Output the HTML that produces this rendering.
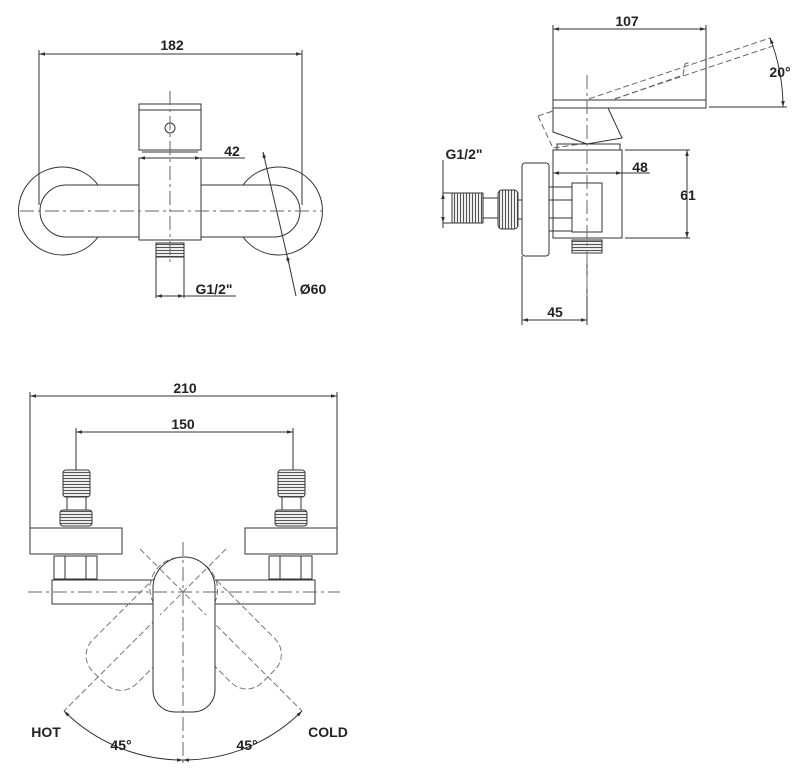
<!DOCTYPE html>
<html><head><meta charset="utf-8"><style>
html,body{margin:0;padding:0;background:#fff;}
svg{display:block;}
text{font-family:"Liberation Sans",Arial,sans-serif;font-weight:bold;font-size:14px;fill:#222;}
</style></head><body>
<svg width="804" height="772" viewBox="0 0 804 772" xmlns="http://www.w3.org/2000/svg">
<defs>
<marker id="a" viewBox="0 0 10 10" refX="10" refY="5" markerWidth="8" markerHeight="6" orient="auto-start-reverse"><path d="M0,2 L10,5 L0,8 z" fill="#333"/></marker>
<pattern id="th" width="4" height="3" patternUnits="userSpaceOnUse"><rect width="4" height="3" fill="#fff"/><line x1="0" y1="1.5" x2="4" y2="1.5" stroke="#555" stroke-width="1.2"/></pattern>
<pattern id="tv" width="3" height="4" patternUnits="userSpaceOnUse"><rect width="3" height="4" fill="#fff"/><line x1="1.5" y1="0" x2="1.5" y2="4" stroke="#555" stroke-width="1.2"/></pattern>
</defs>
<g fill="none" stroke="#333" stroke-width="1">
<!-- ===== Front view top-left ===== -->
<line x1="39" y1="54" x2="302" y2="54" marker-start="url(#a)" marker-end="url(#a)"/>
<line x1="39" y1="50" x2="39" y2="205"/><line x1="302" y1="50" x2="302" y2="205"/>
<path d="M98,185 A44,44 0 1 0 98,237"/>
<path d="M243,185 A44,44 0 1 1 243,237"/>
<path d="M139,185 H66 A26,26 0 0 0 66,237 H139"/>
<path d="M201,185 H274 A26,26 0 0 1 274,237 H201"/>
<rect x="139" y="104" width="62" height="46"/>
<line x1="139" y1="110" x2="201" y2="110"/>
<line x1="142" y1="152" x2="198" y2="152"/>
<circle cx="170" cy="128" r="5"/>
<line x1="139" y1="158" x2="245" y2="158" marker-start="url(#a)"/>
<line x1="201" y1="158" x2="190" y2="158" marker-start="url(#a)"/>
<rect x="139" y="158" width="62" height="82"/>
<rect x="156" y="243" width="28" height="14" fill="url(#th)"/>
<line x1="156" y1="257" x2="156" y2="298"/><line x1="184" y1="257" x2="184" y2="298"/>
<line x1="156" y1="296" x2="184" y2="296" marker-start="url(#a)" marker-end="url(#a)"/>
<line x1="184" y1="296" x2="236" y2="296"/>
<line x1="263" y1="152" x2="289" y2="264" marker-start="url(#a)" marker-end="url(#a)"/>
<line x1="289" y1="264" x2="296" y2="296"/>
<g stroke-dasharray="14,4,3,4" stroke="#666">
<line x1="20" y1="211" x2="323" y2="211"/>
<line x1="170" y1="91" x2="170" y2="262"/>
</g>
<!-- ===== Side view top-right ===== -->
<line x1="553" y1="29" x2="706" y2="29" marker-start="url(#a)" marker-end="url(#a)"/>
<line x1="553" y1="25" x2="553" y2="100"/><line x1="706" y1="25" x2="706" y2="100"/>
<g stroke-dasharray="6,3" stroke="#666">
<path d="M538,116 L770,38 L773,46 L587,108"/>
<path d="M598,105 L683,75 L685,64 L690,62"/>
<path d="M538,116 L553,148 L587,143"/>
</g>
<rect x="553" y="100" width="153" height="8" fill="#fff"/>
<line x1="709" y1="107" x2="787" y2="107"/>
<path d="M553,108 L608,108 L622,138 L587,144 L553,132 Z" fill="#fff"/>
<rect x="557" y="144" width="63" height="6"/>
<path d="M770,38 A190,190 0 0 1 783,107" marker-start="url(#a)" marker-end="url(#a)"/>
<rect x="553" y="150" width="69" height="88"/>
<line x1="625" y1="150" x2="690" y2="150"/><line x1="625" y1="238" x2="690" y2="238"/>
<line x1="687" y1="150" x2="687" y2="238" marker-start="url(#a)" marker-end="url(#a)"/>
<line x1="553" y1="173" x2="650" y2="173" marker-start="url(#a)"/>
<line x1="622" y1="173" x2="612" y2="173" marker-start="url(#a)"/>
<rect x="522" y="163" width="27" height="93" rx="3"/>
<rect x="549" y="187" width="23" height="44"/>
<line x1="549" y1="200" x2="572" y2="200"/><line x1="549" y1="218" x2="572" y2="218"/>
<rect x="572" y="183" width="30" height="49"/>
<rect x="572" y="240" width="30" height="13" fill="url(#th)"/>
<rect x="452" y="193" width="31" height="30" fill="url(#tv)"/>
<path d="M483,198 H498 M483,218 H498"/>
<rect x="498" y="190" width="20" height="39" rx="4" fill="url(#tv)"/>
<line x1="518" y1="200" x2="522" y2="200"/><line x1="518" y1="219" x2="522" y2="219"/>
<line x1="443" y1="160" x2="443" y2="228"/>
<line x1="443" y1="193" x2="443" y2="223" marker-start="url(#a)" marker-end="url(#a)"/>
<line x1="443" y1="193" x2="452" y2="193"/><line x1="443" y1="223" x2="452" y2="223"/>
<line x1="522" y1="256" x2="522" y2="325"/><line x1="587" y1="260" x2="587" y2="325"/>
<line x1="522" y1="320" x2="587" y2="320" marker-start="url(#a)" marker-end="url(#a)"/>
<line x1="587" y1="75" x2="587" y2="300" stroke-dasharray="14,4,3,4" stroke="#666"/>
<!-- ===== Bottom view ===== -->
<line x1="30" y1="396" x2="337" y2="396" marker-start="url(#a)" marker-end="url(#a)"/>
<line x1="30" y1="392" x2="30" y2="528"/><line x1="337" y1="392" x2="337" y2="553"/>
<line x1="76" y1="432" x2="293" y2="432" marker-start="url(#a)" marker-end="url(#a)"/>
<line x1="76" y1="428" x2="76" y2="470"/><line x1="293" y1="428" x2="293" y2="470"/>
<g id="conn">
<rect x="63" y="470" width="27" height="27" rx="3" fill="url(#th)"/>
<path d="M67,497 V510 M86,497 V510"/>
<rect x="60" y="510" width="32" height="16" rx="3" fill="url(#th)"/>
<rect x="30" y="528" width="92" height="26"/>
<rect x="54" y="556" width="43" height="23"/>
<path d="M65,556 V579 M86,556 V579"/>
</g>
<use href="#conn" transform="translate(215,0)"/>
<path d="M153,580 H52 V604 H153 M215,580 H315 V604 H215"/>
<g stroke-dasharray="6,3" stroke="#777">
<path d="M153,588 A31,31 0 0 1 215,588 V690 A22,22 0 0 1 193,712 H175 A22,22 0 0 1 153,690 Z" transform="rotate(45 183 592)"/>
<path d="M153,588 A31,31 0 0 1 215,588 V690 A22,22 0 0 1 193,712 H175 A22,22 0 0 1 153,690 Z" transform="rotate(-45 183 592)"/>
<line x1="140" y1="549" x2="302" y2="711"/>
<line x1="226" y1="549" x2="64" y2="711"/>
</g>
<path d="M153,588 A31,31 0 0 1 215,588 V690 A22,22 0 0 1 193,712 H175 A22,22 0 0 1 153,690 Z" fill="#fff"/>
<g stroke-dasharray="6,3" stroke="#777">
<line x1="160" y1="569" x2="206" y2="615"/>
<line x1="206" y1="569" x2="160" y2="615"/>
</g>
<g stroke-dasharray="14,4,3,4" stroke="#666">
<line x1="28" y1="592" x2="340" y2="592"/>
<line x1="183" y1="542" x2="183" y2="765"/>
</g>
<path d="M64,711 A168,168 0 0 0 183,760" marker-start="url(#a)" marker-end="url(#a)"/>
<path d="M302,711 A168,168 0 0 1 183,760" marker-start="url(#a)" marker-end="url(#a)"/>
</g>
<text x="172" y="50" text-anchor="middle">182</text>
<text x="232" y="156" text-anchor="middle">42</text>
<text x="214" y="294" text-anchor="middle">G1/2"</text>
<text x="313" y="294" text-anchor="middle">Ø60</text>
<text x="627" y="26" text-anchor="middle">107</text>
<text x="780" y="77" text-anchor="middle">20°</text>
<text x="640" y="172" text-anchor="middle">48</text>
<text x="688" y="200" text-anchor="middle">61</text>
<text x="464" y="159" text-anchor="middle">G1/2"</text>
<text x="555" y="317" text-anchor="middle">45</text>
<text x="185" y="393" text-anchor="middle">210</text>
<text x="183" y="429" text-anchor="middle">150</text>
<text x="46" y="737" text-anchor="middle">HOT</text>
<text x="328" y="737" text-anchor="middle">COLD</text>
<text x="121" y="750" text-anchor="middle">45°</text>
<text x="247" y="750" text-anchor="middle">45°</text>
</svg>
</body></html>
